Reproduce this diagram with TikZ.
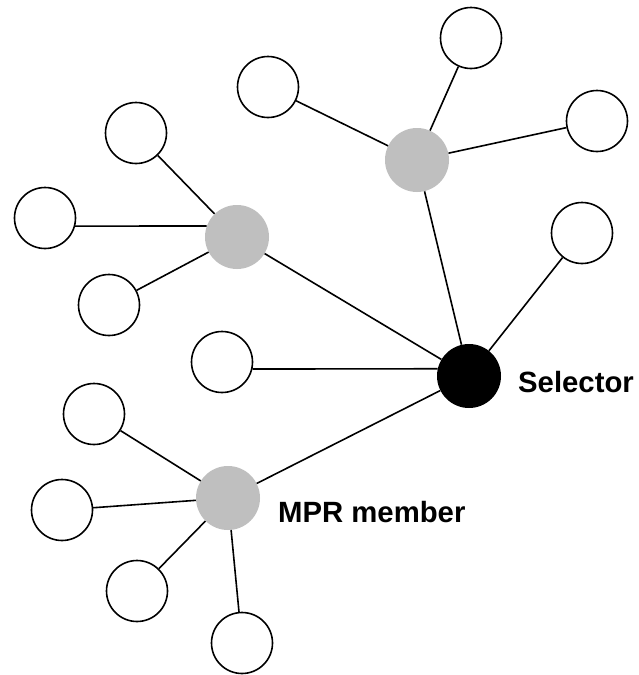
\documentclass[tikz,border=0pt]{standalone}
\usepackage{fontspec}
\setmainfont{Liberation Sans}
\begin{document}
\begin{tikzpicture}[x=1pt,y=-1pt,
  wnode/.style={circle,draw=black,line width=1.6pt,fill=white,minimum size=61pt,inner sep=0pt},
  gnode/.style={circle,fill=black!25,minimum size=64pt,inner sep=0pt},
  bnode/.style={circle,fill=black,minimum size=64pt,inner sep=0pt},
  link/.style={line width=1.6pt,black},
  lbl/.style={font=\fontsize{29.3}{33}\selectfont\bfseries,inner sep=0pt,anchor=base west}]
\useasboundingbox (0,0) rectangle (639,675);
\fill[white] (0,0) rectangle (639,675);
% hubs
\node[bnode] (sel) at (469,376) {};
\node[gnode] (gt) at (417,160) {};
\node[gnode] (gl) at (237,237) {};
\node[gnode] (gb) at (228,498) {};
% leaves
\node[wnode] (w1) at (471,38) {};
\node[wnode] (w2) at (268,87) {};
\node[wnode] (w3) at (597,121) {};
\node[wnode] (w4) at (136,133) {};
\node[wnode] (w5) at (45,218) {};
\node[wnode] (w6) at (582,233) {};
\node[wnode] (w7) at (109,305) {};
\node[wnode] (w8) at (222,362) {};
\node[wnode] (w9) at (94,414) {};
\node[wnode] (w10) at (62,510) {};
\node[wnode] (w11) at (137,591) {};
\node[wnode] (w12) at (242,643) {};
% links
\draw[link] (sel) -- (gt);
\draw[link] (sel) -- (gl);
\draw[link] (w8.-13) -- (sel.167);
\draw[link] (sel) -- (gb);
\draw[link] (sel) -- (w6);
\draw[link] (gt) -- (w1);
\draw[link] (gt) -- (w2);
\draw[link] (gt) -- (w3);
\draw[link] (gl) -- (w4);
\draw[link] (w5.-15) -- (gl.160);
\draw[link] (gl) -- (w7);
\draw[link] (gb) -- (w9);
\draw[link] (gb) -- (w10);
\draw[link] (gb) -- (w11);
\draw[link] (gb) -- (w12);
% labels
\node[lbl] (tsel) at (518,392) {Selector};
\node[lbl] (tmpr) at (278,522) {MPR member};
\end{tikzpicture}
\end{document}
